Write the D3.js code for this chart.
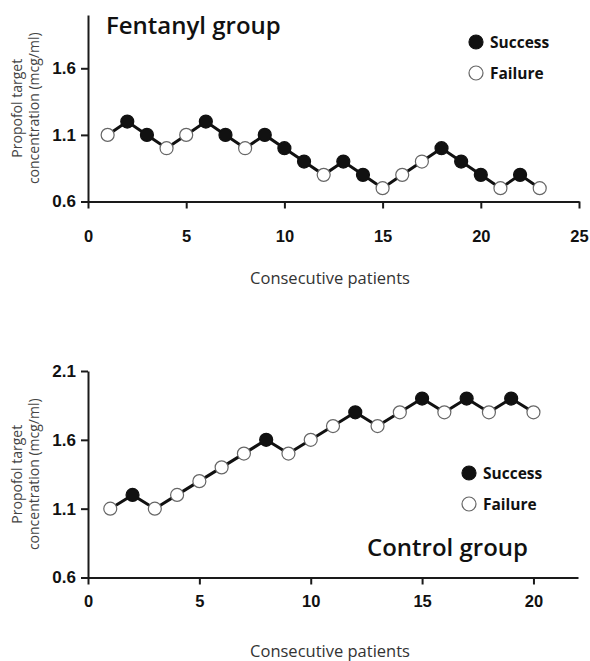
<!DOCTYPE html>
<html>
<head>
<meta charset="utf-8">
<script src="https://cdn.jsdelivr.net/npm/d3@7"></script>
<style>
  body { margin: 0; background: #fff; }
  svg { display: block; font-family: "Open Sans", sans-serif; }
  .axis path, .axis line { stroke: #1a1a1a; stroke-width: 2; }
  .axis text { fill: #111; font-weight: 700; }
  .ylabel { fill: #444; font-size: 14px; }
  .xlabel { fill: #333; font-size: 16.5px; }
  .title { fill: #111; font-weight: 600; font-size: 24px; }
  .legend text { fill: #111; font-weight: 700; font-size: 15.5px; }
</style>
</head>
<body>
<div id="chart"></div>
<script>
// DATA

// fentanyl group - up/down sequence
const fentanylPatients = [1,2,3,4,5,6,7,8,9,10,11,12,13,14,15,16,17,18,19,20,21,22,23];
const fentanylConc = [1.1,1.2,1.1,1.0,1.1,1.2,1.1,1.0,1.1,1.0,0.9,0.8,0.9,0.8,0.7,0.8,0.9,1.0,0.9,0.8,0.7,0.8,0.7];
const fentanylOutcome = ["F","S","S","F","F","S","S","F","S","S","S","F","S","S","F","F","F","S","S","S","F","S","F"];

// control group
const controlPatients = [1,2,3,4,5,6,7,8,9,10,11,12,13,14,15,16,17,18,19,20];
const controlConc = [1.1,1.2,1.1,1.2,1.3,1.4,1.5,1.6,1.5,1.6,1.7,1.8,1.7,1.8,1.9,1.8,1.9,1.8,1.9,1.8];
const controlOutcome = ["F","S","F","F","F","F","F","S","F","F","F","S","F","F","S","F","S","F","S","F"];

const fentanylXTicks = [0,5,10,15,20,25];
const fentanylYTicks = [0.6,1.1,1.6];
const controlXTicks = [0,5,10,15,20];
const controlYTicks = [0.6,1.1,1.6,2.1];

const legendLabels = ["Success","Failure"];

// SVG

const width = 590;
const height = 661;

const svg = d3.select("#chart")
    .append("svg")
    .attr("width", width)
    .attr("height", height);

function drawPanel(opt) {

    const g = svg.append("g");

    const xScale = d3.scaleLinear()
        .domain(opt.xDomain)
        .range([opt.left, opt.right]);

    const yScale = d3.scaleLinear()
        .domain(opt.yDomain)
        .range([opt.bottom, opt.top]);

    // AXES
    const xAxis = g.append("g")
        .attr("class", "axis")
        .attr("transform", `translate(0,${opt.bottom})`)
        .call(d3.axisBottom(xScale)
            .tickValues(opt.xTicks)
            .tickSize(7)
            .tickSizeOuter(0)
            .tickPadding(opt.xPad)
            .tickFormat(d3.format("d")));
    xAxis.selectAll("text").style("font-size", "16.5px");

    const yAxis = g.append("g")
        .attr("class", "axis")
        .attr("transform", `translate(${opt.left},0)`)
        .call(d3.axisLeft(yScale)
            .tickValues(opt.yTicks)
            .tickSize(7)
            .tickSizeOuter(0)
            .tickPadding(5)
            .tickFormat(d3.format(".1f")));
    yAxis.selectAll("text").style("font-size", "17px");

    // AXIS LABELS
    const midY = (opt.top + opt.bottom) / 2;
    const ylab = g.append("text")
        .attr("class", "ylabel")
        .attr("transform", `translate(18,${midY})rotate(-90)`)
        .attr("text-anchor", "middle");
    ylab.append("tspan").attr("x", 0).attr("y", 4).text("Propofol target");
    ylab.append("tspan").attr("x", 0).attr("y", 21).text("concentration (mcg/ml)");

    g.append("text")
        .attr("class", "xlabel")
        .attr("x", 330)
        .attr("y", opt.xLabelY)
        .attr("text-anchor", "middle")
        .text("Consecutive patients");

    // LINE + MARKS
    const pts = opt.patients.map(function(p, i) {
        return {x: p, y: opt.conc[i], out: opt.outcome[i]};
    });

    const line = d3.line()
        .x(function(d) { return xScale(d.x); })
        .y(function(d) { return yScale(d.y); });

    g.append("path")
        .datum(pts)
        .attr("d", line)
        .attr("fill", "none")
        .attr("stroke", "#111")
        .attr("stroke-width", 3);

    g.selectAll("circle.pt")
        .data(pts)
        .enter()
        .append("circle")
            .attr("class", "pt")
            .attr("cx", function(d) { return xScale(d.x); })
            .attr("cy", function(d) { return yScale(d.y); })
            .attr("r", 6.5)
            .attr("fill", function(d) { return d.out == "S" ? "#111" : "#fff"; })
            .attr("stroke", function(d) { return d.out == "S" ? "#111" : "#666"; })
            .attr("stroke-width", 1.2);

    // TITLE
    g.append("text")
        .attr("class", "title")
        .attr("x", opt.titleX)
        .attr("y", opt.titleY)
        .text(opt.title);

    // LEGEND
    const leg = g.append("g").attr("class", "legend");
    legendLabels.forEach(function(lab, i) {
        const ly = opt.legY + i * opt.legStep;
        leg.append("circle")
            .attr("cx", opt.legX)
            .attr("cy", ly)
            .attr("r", 7)
            .attr("fill", i == 0 ? "#111" : "#fff")
            .attr("stroke", i == 0 ? "#111" : "#666")
            .attr("stroke-width", 1.2);
        leg.append("text")
            .attr("x", opt.legX + 14)
            .attr("y", ly + 5.5)
            .text(lab);
    });
}

drawPanel({
    patients: fentanylPatients, conc: fentanylConc, outcome: fentanylOutcome,
    xDomain: [0, 25], yDomain: [0.6, 2.0],
    xTicks: fentanylXTicks, yTicks: fentanylYTicks,
    left: 88, right: 579, top: 15, bottom: 201.5,
    xPad: 22, xLabelY: 284,
    title: "Fentanyl group", titleX: 106, titleY: 34,
    legX: 476, legY: 42, legStep: 31
});

drawPanel({
    patients: controlPatients, conc: controlConc, outcome: controlOutcome,
    xDomain: [0, 22], yDomain: [0.6, 2.1],
    xTicks: controlXTicks, yTicks: controlYTicks,
    left: 88, right: 578, top: 371, bottom: 577.5,
    xPad: 11, xLabelY: 657,
    title: "Control group", titleX: 367, titleY: 556,
    legX: 469, legY: 473, legStep: 31
});
</script>
</body>
</html>
